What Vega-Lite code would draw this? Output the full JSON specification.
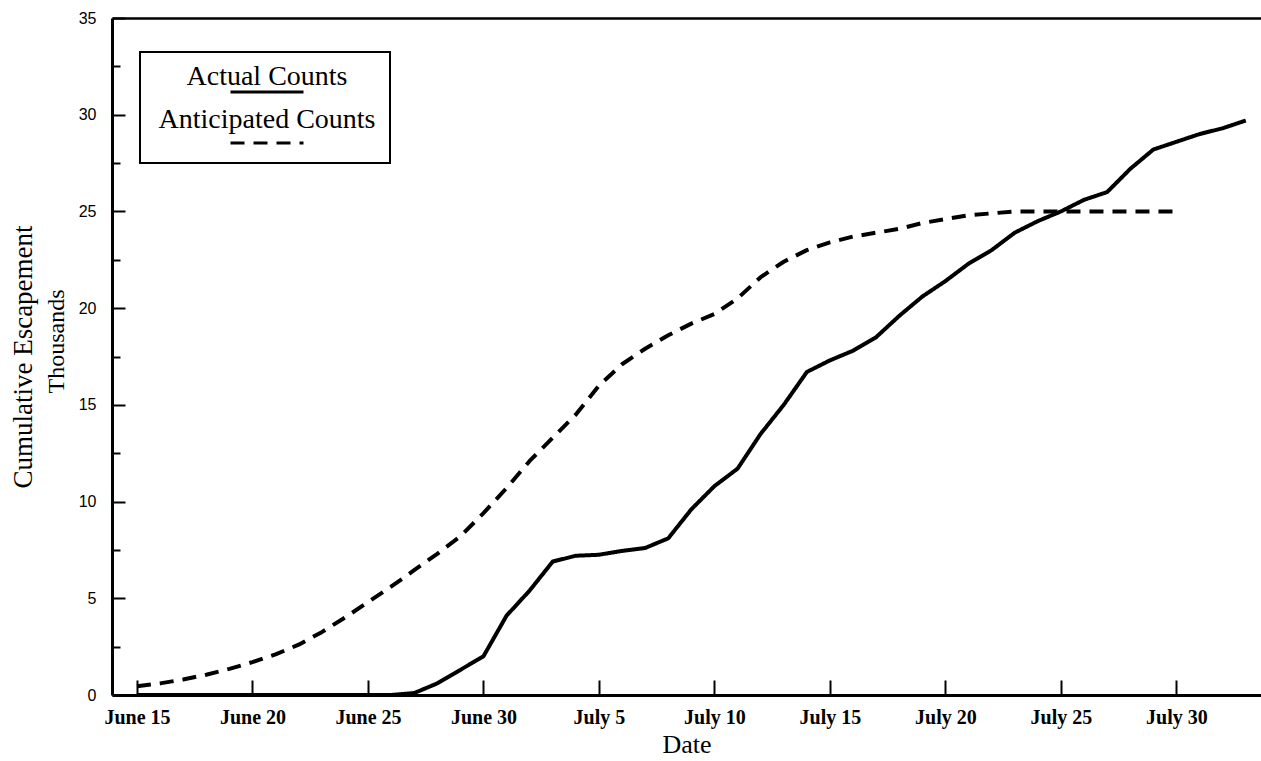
{
  "$schema": "https://vega.github.io/schema/vega-lite/v6.json",
  "width": 1149,
  "height": 677,
  "autosize": {"type": "none"},
  "padding": {"left": 112, "top": 18, "right": 0, "bottom": 66},
  "background": "white",
  "config": {
    "view": {"stroke": null},
    "font": "Liberation Serif",
    "axis": {"grid": false, "domainColor": "black", "tickColor": "black", "labelColor": "black", "titleColor": "black"},
    "legend": {"strokeWidth": 2}
  },
  "datasets": {
    "actual": [
      {"day": 15, "thousands": 0, "series": "Actual Counts"},
      {"day": 16, "thousands": 0, "series": "Actual Counts"},
      {"day": 17, "thousands": 0, "series": "Actual Counts"},
      {"day": 18, "thousands": 0, "series": "Actual Counts"},
      {"day": 19, "thousands": 0, "series": "Actual Counts"},
      {"day": 20, "thousands": 0, "series": "Actual Counts"},
      {"day": 21, "thousands": 0, "series": "Actual Counts"},
      {"day": 22, "thousands": 0, "series": "Actual Counts"},
      {"day": 23, "thousands": 0, "series": "Actual Counts"},
      {"day": 24, "thousands": 0, "series": "Actual Counts"},
      {"day": 25, "thousands": 0, "series": "Actual Counts"},
      {"day": 26, "thousands": 0, "series": "Actual Counts"},
      {"day": 27, "thousands": 0.1, "series": "Actual Counts"},
      {"day": 28, "thousands": 0.6, "series": "Actual Counts"},
      {"day": 29, "thousands": 1.3, "series": "Actual Counts"},
      {"day": 30, "thousands": 2.0, "series": "Actual Counts"},
      {"day": 31, "thousands": 4.1, "series": "Actual Counts"},
      {"day": 32, "thousands": 5.4, "series": "Actual Counts"},
      {"day": 33, "thousands": 6.9, "series": "Actual Counts"},
      {"day": 34, "thousands": 7.2, "series": "Actual Counts"},
      {"day": 35, "thousands": 7.25, "series": "Actual Counts"},
      {"day": 36, "thousands": 7.45, "series": "Actual Counts"},
      {"day": 37, "thousands": 7.6, "series": "Actual Counts"},
      {"day": 38, "thousands": 8.1, "series": "Actual Counts"},
      {"day": 39, "thousands": 9.6, "series": "Actual Counts"},
      {"day": 40, "thousands": 10.8, "series": "Actual Counts"},
      {"day": 41, "thousands": 11.7, "series": "Actual Counts"},
      {"day": 42, "thousands": 13.5, "series": "Actual Counts"},
      {"day": 43, "thousands": 15.0, "series": "Actual Counts"},
      {"day": 44, "thousands": 16.7, "series": "Actual Counts"},
      {"day": 45, "thousands": 17.3, "series": "Actual Counts"},
      {"day": 46, "thousands": 17.8, "series": "Actual Counts"},
      {"day": 47, "thousands": 18.5, "series": "Actual Counts"},
      {"day": 48, "thousands": 19.6, "series": "Actual Counts"},
      {"day": 49, "thousands": 20.6, "series": "Actual Counts"},
      {"day": 50, "thousands": 21.4, "series": "Actual Counts"},
      {"day": 51, "thousands": 22.3, "series": "Actual Counts"},
      {"day": 52, "thousands": 23.0, "series": "Actual Counts"},
      {"day": 53, "thousands": 23.9, "series": "Actual Counts"},
      {"day": 54, "thousands": 24.5, "series": "Actual Counts"},
      {"day": 55, "thousands": 25.0, "series": "Actual Counts"},
      {"day": 56, "thousands": 25.6, "series": "Actual Counts"},
      {"day": 57, "thousands": 26.0, "series": "Actual Counts"},
      {"day": 58, "thousands": 27.2, "series": "Actual Counts"},
      {"day": 59, "thousands": 28.2, "series": "Actual Counts"},
      {"day": 60, "thousands": 28.6, "series": "Actual Counts"},
      {"day": 61, "thousands": 29.0, "series": "Actual Counts"},
      {"day": 62, "thousands": 29.3, "series": "Actual Counts"},
      {"day": 63, "thousands": 29.7, "series": "Actual Counts"}
    ],
    "anticipated": [
      {"day": 15, "thousands": 0.45, "series": "Anticipated Counts"},
      {"day": 16, "thousands": 0.6, "series": "Anticipated Counts"},
      {"day": 17, "thousands": 0.8, "series": "Anticipated Counts"},
      {"day": 18, "thousands": 1.05, "series": "Anticipated Counts"},
      {"day": 19, "thousands": 1.35, "series": "Anticipated Counts"},
      {"day": 20, "thousands": 1.7, "series": "Anticipated Counts"},
      {"day": 21, "thousands": 2.1, "series": "Anticipated Counts"},
      {"day": 22, "thousands": 2.6, "series": "Anticipated Counts"},
      {"day": 23, "thousands": 3.25, "series": "Anticipated Counts"},
      {"day": 24, "thousands": 4.0, "series": "Anticipated Counts"},
      {"day": 25, "thousands": 4.8, "series": "Anticipated Counts"},
      {"day": 26, "thousands": 5.6, "series": "Anticipated Counts"},
      {"day": 27, "thousands": 6.45, "series": "Anticipated Counts"},
      {"day": 28, "thousands": 7.3, "series": "Anticipated Counts"},
      {"day": 29, "thousands": 8.2, "series": "Anticipated Counts"},
      {"day": 30, "thousands": 9.4, "series": "Anticipated Counts"},
      {"day": 31, "thousands": 10.7, "series": "Anticipated Counts"},
      {"day": 32, "thousands": 12.1, "series": "Anticipated Counts"},
      {"day": 33, "thousands": 13.3, "series": "Anticipated Counts"},
      {"day": 34, "thousands": 14.5, "series": "Anticipated Counts"},
      {"day": 35, "thousands": 16.0, "series": "Anticipated Counts"},
      {"day": 36, "thousands": 17.1, "series": "Anticipated Counts"},
      {"day": 37, "thousands": 17.9, "series": "Anticipated Counts"},
      {"day": 38, "thousands": 18.6, "series": "Anticipated Counts"},
      {"day": 39, "thousands": 19.2, "series": "Anticipated Counts"},
      {"day": 40, "thousands": 19.7, "series": "Anticipated Counts"},
      {"day": 41, "thousands": 20.5, "series": "Anticipated Counts"},
      {"day": 42, "thousands": 21.6, "series": "Anticipated Counts"},
      {"day": 43, "thousands": 22.4, "series": "Anticipated Counts"},
      {"day": 44, "thousands": 23.0, "series": "Anticipated Counts"},
      {"day": 45, "thousands": 23.4, "series": "Anticipated Counts"},
      {"day": 46, "thousands": 23.7, "series": "Anticipated Counts"},
      {"day": 47, "thousands": 23.9, "series": "Anticipated Counts"},
      {"day": 48, "thousands": 24.1, "series": "Anticipated Counts"},
      {"day": 49, "thousands": 24.4, "series": "Anticipated Counts"},
      {"day": 50, "thousands": 24.6, "series": "Anticipated Counts"},
      {"day": 51, "thousands": 24.8, "series": "Anticipated Counts"},
      {"day": 52, "thousands": 24.9, "series": "Anticipated Counts"},
      {"day": 53, "thousands": 25.0, "series": "Anticipated Counts"},
      {"day": 54, "thousands": 25.0, "series": "Anticipated Counts"},
      {"day": 55, "thousands": 25.0, "series": "Anticipated Counts"},
      {"day": 56, "thousands": 25.0, "series": "Anticipated Counts"},
      {"day": 57, "thousands": 25.0, "series": "Anticipated Counts"},
      {"day": 58, "thousands": 25.0, "series": "Anticipated Counts"},
      {"day": 59, "thousands": 25.0, "series": "Anticipated Counts"},
      {"day": 60, "thousands": 25.0, "series": "Anticipated Counts"}
    ]
  },
  "layer": [
    {
      "data": {"name": "actual"},
      "mark": {"type": "line", "color": "black", "strokeWidth": 4, "strokeCap": "butt", "strokeJoin": "round"},
      "encoding": {
        "x": {
          "field": "day", "type": "quantitative",
          "scale": {"domain": [13.92, 63.66], "nice": false, "zero": false},
          "axis": {
            "orient": "bottom",
            "values": [15, 20, 25, 30, 35, 40, 45, 50, 55, 60],
            "labelExpr": "datum.value <= 30 ? 'June ' + datum.value : 'July ' + (datum.value - 30)",
            "labelFont": "Liberation Serif", "labelFontSize": 20, "labelFontWeight": "bold",
            "labelPadding": 27, "labelFlush": false, "labelOverlap": false,
            "tickSize": -15, "tickWidth": 2, "domainWidth": 3,
            "title": "Date", "titleFont": "Liberation Serif", "titleFontSize": 26, "titleFontWeight": "normal", "titlePadding": 4
          }
        },
        "y": {
          "field": "thousands", "type": "quantitative",
          "scale": {"domain": [0, 35], "nice": false},
          "axis": {
            "orient": "left",
            "values": [0, 5, 10, 15, 20, 25, 30, 35],
            "labelFont": "Liberation Sans", "labelFontSize": 16, "labelPadding": 29,
            "tickSize": -13, "tickWidth": 2, "domainWidth": 3,
            "title": "Cumulative Escapement",
            "titleFont": "Liberation Serif", "titleFontSize": 27, "titleFontWeight": "normal",
            "titlePadding": 41
          }
        },
        "strokeDash": {
          "field": "series", "type": "nominal",
          "scale": {"domain": ["Actual Counts", "Anticipated Counts"], "range": [[1, 0], [14, 9]]},
          "legend": {
            "orient": "none", "legendX": 28, "legendY": 34, "title": null, "direction": "vertical",
            "symbolType": "stroke", "symbolSize": 5329, "symbolStrokeWidth": 3, "symbolStrokeColor": "black",
            "labelFont": "Liberation Serif", "labelFontSize": 28, "labelColor": "black", "labelLimit": 400,
            "strokeColor": "black", "fillColor": "white", "padding": 14, "rowPadding": 8,
            "encode": {
              "symbols": {"update": {"x": {"value": 113}, "y": {"signal": "datum.value === 'Anticipated Counts' ? 34 : 26"}}},
              "labels": {"update": {"x": {"value": 113}, "y": {"value": 11}, "align": {"value": "center"}}}
            }
          }
        }
      }
    },
    {
      "data": {"name": "anticipated"},
      "mark": {"type": "line", "color": "black", "strokeWidth": 4, "strokeCap": "butt", "strokeJoin": "round"},
      "encoding": {
        "x": {
          "field": "day", "type": "quantitative",
          "axis": {"orient": "top", "labels": false, "ticks": false, "domainWidth": 2.5, "title": null}
        },
        "y": {
          "field": "thousands", "type": "quantitative",
          "axis": {
            "orient": "left", "labels": false, "domain": false,
            "values": [2.5, 7.5, 12.5, 17.5, 22.5, 27.5, 32.5],
            "tickSize": -8, "tickWidth": 2,
            "title": "Thousands",
            "titleFont": "Liberation Serif", "titleFontSize": 24, "titleFontWeight": "normal",
            "titlePadding": 43, "titleY": 323
          }
        },
        "strokeDash": {"field": "series", "type": "nominal"}
      }
    }
  ],
  "resolve": {"axis": {"x": "independent", "y": "independent"}}
}
